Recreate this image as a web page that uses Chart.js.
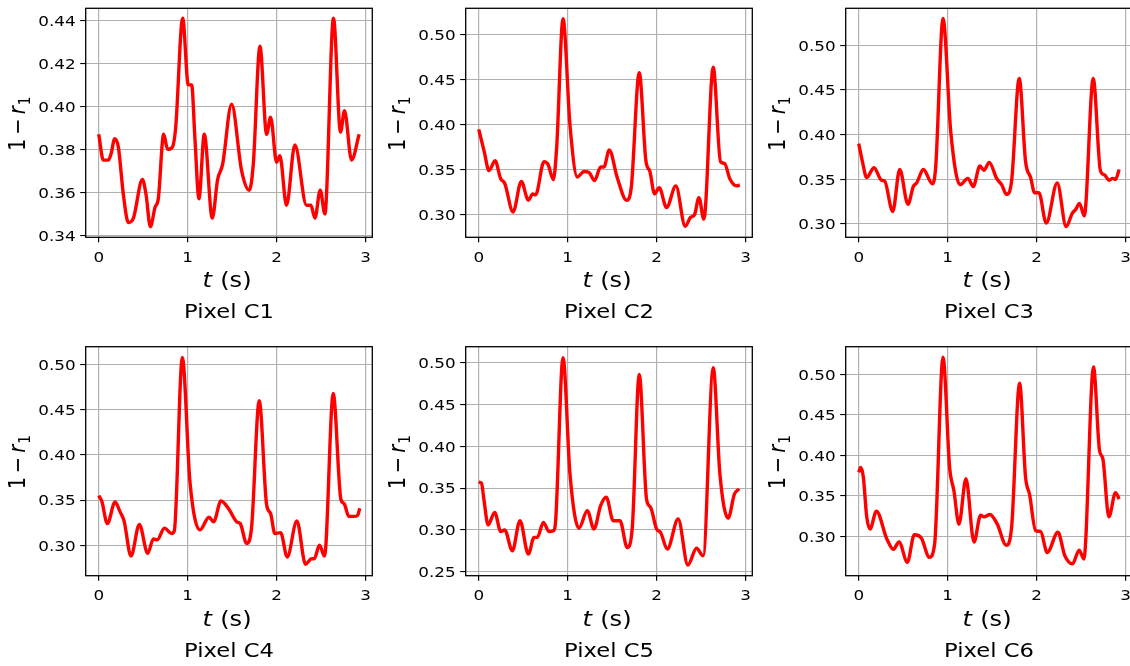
<!DOCTYPE html>
<html>
<head>
<meta charset="utf-8">
<title>1 - r1 per pixel</title>
<script src="https://cdn.jsdelivr.net/npm/chart.js@4.4.1/dist/chart.umd.min.js"></script>
<style>
  html, body { margin: 0; padding: 0; background: #fff; overflow: hidden; }
  #fig { position: relative; width: 1130px; height: 666px; overflow: hidden; }
  #fig canvas { position: absolute; }
</style>
</head>
<body>
<div id="fig"></div>
<script>
// time axis ticks (s)
const xTicks = [0, 1, 2, 3];
const xRange = [-0.1465, 3.0765];

// y ticks for each pixel
const yTicksC1 = [0.34, 0.36, 0.38, 0.40, 0.42, 0.44];
const yTicksC2 = [0.30, 0.35, 0.40, 0.45, 0.50];
const yTicksC3 = [0.30, 0.35, 0.40, 0.45, 0.50];
const yTicksC4 = [0.30, 0.35, 0.40, 0.45, 0.50];
const yTicksC5 = [0.25, 0.30, 0.35, 0.40, 0.45, 0.50];
const yTicksC6 = [0.30, 0.35, 0.40, 0.45, 0.50];

// 1 - r1 (t in s)
const tC1 = [0, 0.052, 0.109, 0.139, 0.18, 0.221, 0.277, 0.333, 0.39, 0.491, 0.532, 0.581, 0.633, 0.67, 0.73, 0.775, 0.828, 0.865, 0.944, 1.007, 1.045, 1.082, 1.127, 1.187, 1.277, 1.337, 1.393, 1.494, 1.607, 1.693, 1.738, 1.813, 1.888, 1.933, 2.0, 2.037, 2.112, 2.206, 2.337, 2.386, 2.431, 2.491, 2.543, 2.64, 2.719, 2.764, 2.843, 2.929];
const vC1 = [0.387, 0.375, 0.375, 0.378, 0.385, 0.381, 0.359, 0.346, 0.348, 0.366, 0.359, 0.344, 0.353, 0.357, 0.387, 0.380, 0.381, 0.390, 0.441, 0.410, 0.410, 0.385, 0.357, 0.387, 0.348, 0.366, 0.373, 0.401, 0.370, 0.361, 0.373, 0.428, 0.387, 0.395, 0.374, 0.377, 0.354, 0.382, 0.354, 0.354, 0.348, 0.361, 0.350, 0.441, 0.388, 0.398, 0.375, 0.387];

const tC2 = [0, 0.06, 0.116, 0.184, 0.247, 0.292, 0.386, 0.479, 0.558, 0.607, 0.64, 0.734, 0.779, 0.839, 0.876, 0.948, 1.026, 1.109, 1.184, 1.24, 1.303, 1.371, 1.408, 1.468, 1.558, 1.663, 1.715, 1.805, 1.88, 1.925, 1.978, 2.03, 2.112, 2.217, 2.322, 2.382, 2.427, 2.476, 2.532, 2.637, 2.719, 2.764, 2.824, 2.899, 2.936];
const vC2 = [0.395, 0.371, 0.349, 0.360, 0.340, 0.335, 0.303, 0.337, 0.316, 0.323, 0.322, 0.359, 0.356, 0.339, 0.374, 0.518, 0.400, 0.342, 0.348, 0.347, 0.338, 0.353, 0.353, 0.372, 0.341, 0.316, 0.330, 0.458, 0.360, 0.348, 0.323, 0.330, 0.308, 0.332, 0.287, 0.297, 0.300, 0.319, 0.295, 0.464, 0.359, 0.357, 0.340, 0.332, 0.333];

const tC3 = [0, 0.041, 0.09, 0.172, 0.255, 0.292, 0.382, 0.461, 0.554, 0.614, 0.652, 0.727, 0.828, 0.865, 0.948, 1.034, 1.139, 1.228, 1.288, 1.363, 1.408, 1.468, 1.551, 1.607, 1.663, 1.719, 1.805, 1.876, 1.933, 1.978, 2.026, 2.109, 2.232, 2.333, 2.401, 2.438, 2.483, 2.536, 2.637, 2.719, 2.764, 2.813, 2.854, 2.888, 2.929];
const vC3 = [0.390, 0.370, 0.352, 0.363, 0.349, 0.348, 0.314, 0.361, 0.322, 0.342, 0.346, 0.361, 0.345, 0.363, 0.530, 0.404, 0.344, 0.351, 0.342, 0.365, 0.360, 0.369, 0.351, 0.344, 0.333, 0.348, 0.463, 0.370, 0.352, 0.335, 0.335, 0.301, 0.346, 0.297, 0.312, 0.316, 0.323, 0.309, 0.463, 0.359, 0.355, 0.349, 0.351, 0.350, 0.361];

const tC4 = [0, 0.034, 0.097, 0.184, 0.24, 0.285, 0.363, 0.457, 0.551, 0.614, 0.659, 0.738, 0.82, 0.85, 0.94, 1.026, 1.139, 1.24, 1.292, 1.375, 1.464, 1.551, 1.592, 1.663, 1.719, 1.805, 1.888, 1.933, 1.981, 2.045, 2.12, 2.228, 2.326, 2.393, 2.423, 2.483, 2.539, 2.637, 2.723, 2.76, 2.813, 2.873, 2.91, 2.936];
const vC4 = [0.355, 0.349, 0.324, 0.348, 0.337, 0.327, 0.288, 0.323, 0.291, 0.307, 0.306, 0.319, 0.313, 0.316, 0.508, 0.370, 0.317, 0.331, 0.326, 0.349, 0.340, 0.326, 0.324, 0.302, 0.320, 0.460, 0.345, 0.335, 0.313, 0.314, 0.287, 0.327, 0.279, 0.285, 0.285, 0.300, 0.288, 0.468, 0.351, 0.346, 0.332, 0.332, 0.333, 0.341];

const tC5 = [0, 0.03, 0.06, 0.105, 0.18, 0.247, 0.292, 0.378, 0.464, 0.558, 0.622, 0.659, 0.727, 0.79, 0.839, 0.865, 0.948, 1.026, 1.127, 1.221, 1.296, 1.371, 1.434, 1.513, 1.588, 1.67, 1.727, 1.805, 1.888, 1.933, 2.0, 2.045, 2.12, 2.243, 2.352, 2.449, 2.524, 2.637, 2.712, 2.805, 2.876, 2.929];
const vC5 = [0.357, 0.356, 0.335, 0.306, 0.321, 0.298, 0.300, 0.275, 0.311, 0.271, 0.291, 0.291, 0.309, 0.298, 0.299, 0.311, 0.506, 0.367, 0.302, 0.323, 0.301, 0.329, 0.339, 0.311, 0.311, 0.279, 0.303, 0.486, 0.336, 0.327, 0.301, 0.297, 0.277, 0.313, 0.258, 0.278, 0.269, 0.494, 0.367, 0.314, 0.343, 0.349];

const tC6 = [0, 0.022, 0.052, 0.09, 0.127, 0.199, 0.315, 0.39, 0.453, 0.547, 0.625, 0.704, 0.794, 0.854, 0.948, 1.022, 1.071, 1.127, 1.206, 1.296, 1.371, 1.408, 1.476, 1.558, 1.659, 1.719, 1.809, 1.876, 1.921, 1.989, 2.045, 2.12, 2.24, 2.318, 2.404, 2.479, 2.532, 2.64, 2.708, 2.745, 2.813, 2.888, 2.929];
const vC6 = [0.379, 0.385, 0.373, 0.324, 0.309, 0.331, 0.297, 0.284, 0.293, 0.268, 0.302, 0.298, 0.274, 0.291, 0.521, 0.385, 0.356, 0.315, 0.371, 0.293, 0.326, 0.324, 0.327, 0.315, 0.289, 0.311, 0.489, 0.373, 0.352, 0.307, 0.306, 0.280, 0.305, 0.276, 0.266, 0.283, 0.272, 0.509, 0.406, 0.396, 0.324, 0.354, 0.346];

const panels = [
  { name: 'Pixel C1', t: tC1, v: vC1, ticks: yTicksC1, yMin: 0.3391, yMax: 0.4456, left: 0,   top: 0 },
  { name: 'Pixel C2', t: tC2, v: vC2, ticks: yTicksC2, yMin: 0.2748, yMax: 0.5297, left: 380, top: 0 },
  { name: 'Pixel C3', t: tC3, v: vC3, ticks: yTicksC3, yMin: 0.2851, yMax: 0.5414, left: 760, top: 0 },
  { name: 'Pixel C4', t: tC4, v: vC4, ticks: yTicksC4, yMin: 0.2663, yMax: 0.5199, left: 0,   top: 338 },
  { name: 'Pixel C5', t: tC5, v: vC5, ticks: yTicksC5, yMin: 0.2452, yMax: 0.5191, left: 380, top: 338 },
  { name: 'Pixel C6', t: tC6, v: vC6, ticks: yTicksC6, yMin: 0.2514, yMax: 0.5341, left: 760, top: 338 }
];

// the reference text is stretched a little horizontally
const SX = 1.15;
const FAM = '"DejaVu Sans", sans-serif';
const W = 380, H = 338;
const PLOT_L = 85.7, PLOT_W = 286.6, PLOT_H = 229;

function drawRuns(ctx, runs, x, y, align, rotated) {
  ctx.save();
  ctx.translate(x, y);
  if (rotated) { ctx.rotate(-Math.PI / 2); ctx.scale(1, SX); }
  else ctx.scale(SX, 1);
  let total = 0;
  runs.forEach(r => { ctx.font = r.font; r.w = ctx.measureText(r.text).width + (r.gap || 0); total += r.w; });
  let cx = align === 'center' ? -total / 2 : align === 'right' ? -total : 0;
  ctx.textAlign = 'left';
  ctx.textBaseline = 'alphabetic';
  ctx.fillStyle = '#000';
  runs.forEach(r => { ctx.font = r.font; ctx.fillText(r.text, cx, r.dy || 0); cx += r.w; });
  ctx.restore();
}

const textPlugin = {
  id: 'mplText',
  afterDraw(chart) {
    const ctx = chart.ctx, a = chart.chartArea;
    const xs = chart.scales.x, ys = chart.scales.y;
    const name = chart.options.plugins.mplText.name;

    ctx.save();
    ctx.strokeStyle = '#000';
    ctx.lineWidth = 1.3;
    ctx.strokeRect(a.left, a.top, a.right - a.left, a.bottom - a.top);
    ctx.restore();

    ys.ticks.forEach(t => {
      drawRuns(ctx, [{ text: t.value.toFixed(2), font: `14.6px ${FAM}` }],
        a.left - 10, ys.getPixelForValue(t.value) + 5.3, 'right');
    });
    xs.ticks.forEach(t => {
      drawRuns(ctx, [{ text: String(t.value), font: `14.6px ${FAM}` }],
        xs.getPixelForValue(t.value), a.bottom + 24.5, 'center');
    });

    const cx = (a.left + a.right) / 2, cy = (a.top + a.bottom) / 2;
    drawRuns(ctx, [
      { text: 't', font: `italic 21px ${FAM}`, gap: 0.5 },
      { text: ' (s)', font: `21px ${FAM}` }
    ], cx - 2, a.bottom + 50, 'center');
    drawRuns(ctx, [{ text: name, font: `19.7px ${FAM}` }], cx, a.bottom + 81, 'center');
    drawRuns(ctx, [
      { text: '1\u2009\u2212\u2009', font: `19.5px ${FAM}` },
      { text: 'r', font: `italic 19.5px ${FAM}`, gap: 1 },
      { text: '1', font: `13.6px ${FAM}`, dy: 4 }
    ], 25, cy + 1, 'center', true);
  }
};

const fig = document.getElementById('fig');
panels.forEach(p => {
  const cv = document.createElement('canvas');
  cv.width = W; cv.height = H;
  cv.style.left = p.left + 'px';
  cv.style.top = p.top + 'px';
  fig.appendChild(cv);

  const plotTop = p.top === 0 ? 8.3 : 8.7;
  const bottomSpace = H - plotTop - PLOT_H;

  new Chart(cv, {
    type: 'line',
    data: {
      datasets: [{
        data: p.t.map((t, i) => ({ x: t, y: p.v[i] })),
        borderColor: '#ff0000',
        borderWidth: 3.4,
        pointRadius: 0,
        fill: false,
        cubicInterpolationMode: 'monotone'
      }]
    },
    options: {
      responsive: false,
      animation: false,
      events: [],
      layout: { padding: { left: 0, top: plotTop, right: W - PLOT_L - PLOT_W, bottom: 0 } },
      plugins: {
        legend: { display: false },
        tooltip: { enabled: false },
        mplText: { name: p.name }
      },
      scales: {
        x: {
          type: 'linear', min: xRange[0], max: xRange[1],
          afterBuildTicks: s => { s.ticks = xTicks.map(v => ({ value: v })); },
          afterFit: s => { s.height = bottomSpace; },
          ticks: { display: false },
          grid: { color: '#b0b0b0', lineWidth: 1.2, drawTicks: true, tickLength: 5, tickColor: '#000', tickWidth: 1.2 },
          border: { display: false }
        },
        y: {
          type: 'linear', min: p.yMin, max: p.yMax,
          afterBuildTicks: s => { s.ticks = p.ticks.map(v => ({ value: v })); },
          afterFit: s => { s.width = PLOT_L; },
          ticks: { display: false },
          grid: { color: '#b0b0b0', lineWidth: 1.1, drawTicks: true, tickLength: 5.5, tickColor: '#000', tickWidth: 1.1 },
          border: { display: false }
        }
      }
    },
    plugins: [textPlugin]
  });
});
</script>
</body>
</html>
